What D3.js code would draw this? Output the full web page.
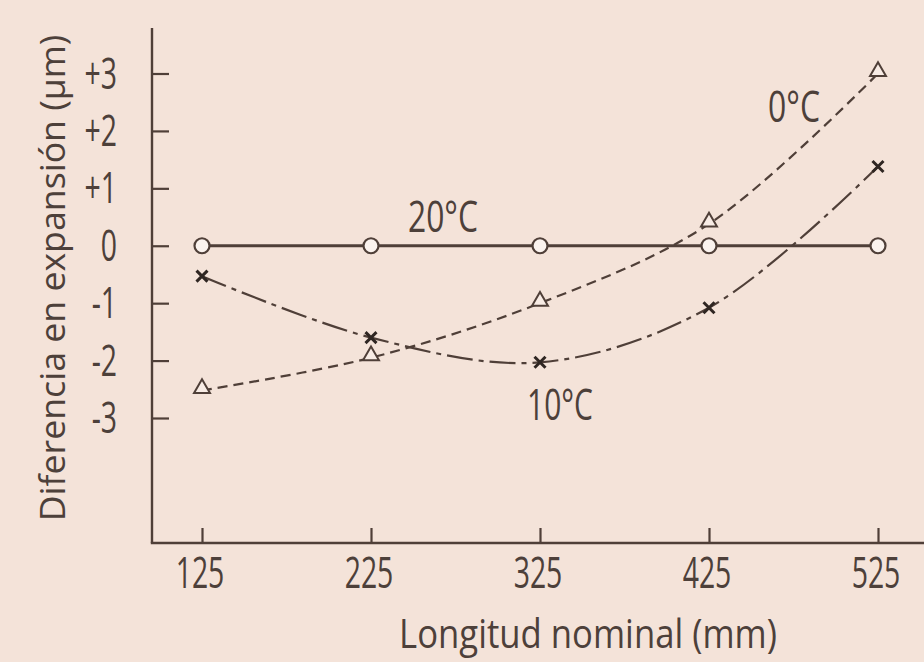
<!DOCTYPE html>
<html><head><meta charset="utf-8">
<script src="https://cdn.jsdelivr.net/npm/d3@7"></script>
<style>
html,body{margin:0;padding:0;background:#f4e3d9;}
svg{display:block;}
text{font-family:"Open Sans","Noto Sans",sans-serif;fill:#4d403a;}
</style></head><body>
<svg id="c" width="924" height="662"></svg>
<script>
const lengths = [125, 225, 325, 425, 525];
const diff20 = [0, 0, 0, 0, 0];
const diff0 = [-2.52, -1.95, -1.0, 0.38, 3.0];
const diff10 = [-0.53, -1.6, -2.03, -1.08, 1.38];
const yTicks = [3, 2, 1, 0, -1, -2, -3];
const yTickLabels = ["+3", "+2", "+1", "0", "-1", "-2", "-3"];
const xTickLabels = ["125", "225", "325", "425", "525"];
const seriesLabels = ["20°C", "0°C", "10°C"];
const yTitle = "Diferencia en expansión (μm)";
const xTitle = "Longitud nominal (mm)";

const svg = d3.select("#c");
const ink = "#4f3f38";
const x = d3.scaleLinear().domain([125, 525]).range([202, 878]);
const y = d3.scaleLinear().domain([-3, 3]).range([418, 73.5]);
const axisLeftX = 152, axisBottomY = 543;

// text helper: condensed text via horizontal scale
function addText(px, py, str, size, anchor, opts) {
  const g = svg.append("g");
  const t = g.append("text").attr("x", 0).attr("y", 0)
    .attr("text-anchor", anchor).attr("font-size", size).text(str);
  let sx = opts.sx || 1;
  if (opts.width) sx = opts.width / t.node().getComputedTextLength();
  const rot = opts.rotate ? ` rotate(${opts.rotate})` : "";
  g.attr("transform", `translate(${px},${py})${rot} scale(${sx},1)`);
  return g;
}

// axes lines
svg.append("line").attr("x1", axisLeftX).attr("x2", axisLeftX).attr("y1", 28).attr("y2", axisBottomY)
  .attr("stroke", ink).attr("stroke-width", 2.4);
svg.append("line").attr("x1", axisLeftX - 1.2).attr("x2", 924).attr("y1", axisBottomY).attr("y2", axisBottomY)
  .attr("stroke", ink).attr("stroke-width", 2.4);

// y ticks
const yAxis = d3.axisRight(y).tickValues(yTicks).tickSize(17).tickFormat("");
const gy = svg.append("g").attr("transform", `translate(${axisLeftX},0)`).call(yAxis);
gy.select(".domain").remove();
gy.selectAll("line").attr("stroke", ink).attr("stroke-width", 2.2);
yTicks.forEach((d, i) => addText(117, y(d) + 15, yTickLabels[i], 43, "end", {sx: 0.66}));

// x ticks
const xAxis = d3.axisTop(x).tickValues(lengths).tickSize(15).tickFormat("");
const gx = svg.append("g").attr("transform", `translate(0,${axisBottomY})`).call(xAxis);
gx.select(".domain").remove();
gx.selectAll("line").attr("stroke", ink).attr("stroke-width", 2.2);
lengths.forEach((d, i) => addText(x(d) - 2, 588, xTickLabels[i], 43, "middle", {sx: 0.66}));

// axis titles
addText(65, 278, yTitle, 35, "middle", {width: 487, rotate: -90});
addText(588, 648, xTitle, 40, "middle", {width: 378});

const pts = arr => lengths.map((l, i) => [x(l), y(arr[i])]);
const line = d3.line().curve(d3.curveCatmullRom.alpha(0.5));
const lineLin = d3.line();

// 20 C
svg.append("path").attr("d", lineLin(pts(diff20))).attr("fill", "none")
  .attr("stroke", ink).attr("stroke-width", 2.8);
// 0 C
svg.append("path").attr("d", line(pts(diff0))).attr("fill", "none")
  .attr("stroke", ink).attr("stroke-width", 2.2).attr("stroke-dasharray", "10,6");
// 10 C
svg.append("path").attr("d", line(pts(diff10))).attr("fill", "none")
  .attr("stroke", ink).attr("stroke-width", 2.2).attr("stroke-dasharray", "26,6,5,6");

// markers
svg.selectAll(".c20").data(pts(diff20)).enter().append("circle")
  .attr("cx", d => d[0]).attr("cy", d => d[1]).attr("r", 7.5)
  .attr("fill", "#fbf3ee").attr("stroke", ink).attr("stroke-width", 2.2);
const tri = d3.symbol().type(d3.symbolTriangle).size(110);
svg.selectAll(".t0").data(pts(diff0)).enter().append("path")
  .attr("d", tri).attr("transform", d => `translate(${d[0]},${d[1] - 2})`)
  .attr("fill", "#f8ece5").attr("stroke", ink).attr("stroke-width", 2);
svg.selectAll(".x10").data(pts(diff10)).enter().append("path")
  .attr("d", d => `M${d[0]-5.5},${d[1]-5.5}L${d[0]+5.5},${d[1]+5.5}M${d[0]-5.5},${d[1]+5.5}L${d[0]+5.5},${d[1]-5.5}`)
  .attr("stroke", "#2f2622").attr("stroke-width", 3);

// series labels
addText(443, 232, seriesLabels[0], 43, "middle", {width: 70});
addText(794, 122, seriesLabels[1], 43, "middle", {width: 52});
addText(560, 420, seriesLabels[2], 43, "middle", {width: 66});
</script>
</body></html>
